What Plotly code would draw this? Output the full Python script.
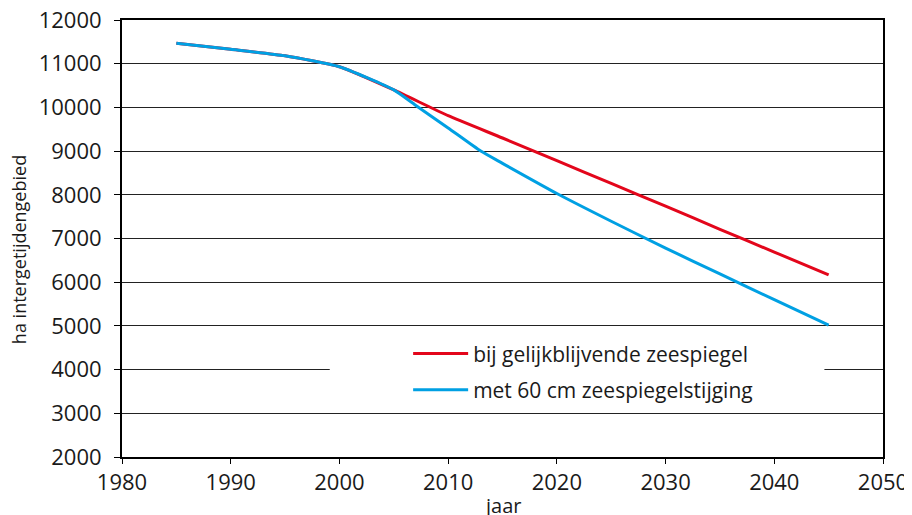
import plotly.graph_objects as go

# data
years = [1985, 1990, 1995, 2000, 2005, 2010, 2015, 2020, 2025, 2030, 2035, 2040, 2045]
gelijk = [11470, 11330, 11180, 10930, 10400, 9810, 9300, 8780, 8260, 7740, 7210, 6690, 6165]

years_stijg = [1985, 1990, 1995, 2000, 2005, 2007, 2010, 2013, 2015, 2020, 2025, 2030, 2035, 2040, 2045]
stijging = [11470, 11330, 11180, 10930, 10400, 10050, 9530, 9000, 8720, 8030, 7395, 6780, 6190, 5600, 5020]

x_ticks = [1980, 1990, 2000, 2010, 2020, 2030, 2040, 2050]
y_ticks = [2000, 3000, 4000, 5000, 6000, 7000, 8000, 9000, 10000, 11000, 12000]

RED = '#e3061b'
BLUE = '#00a0e3'
FONT = 'Open Sans'

fig = go.Figure()

fig.add_trace(go.Scatter(
    x=years, y=gelijk, mode='lines',
    name='bij gelijkblijvende zeespiegel', legendgroup='a',
    line=dict(color=RED, width=3, shape='spline', smoothing=0.5)
))
fig.add_trace(go.Scatter(
    x=years_stijg, y=stijging, mode='lines',
    name='met 60 cm zeespiegelstijging', legendgroup='b',
    line=dict(color=BLUE, width=3, shape='spline', smoothing=0.5)
))

# white panel behind the legend hides the 4000 gridline
fig.add_shape(type='rect', xref='paper', yref='paper',
              x0=0.273, x1=0.923, y0=0.115, y1=0.285,
              fillcolor='white', line=dict(width=0), layer='above')

# axis titles as annotations so they sit where the original has them
fig.add_annotation(
    text='ha intergetijdengebied', textangle=-90,
    xref='paper', yref='paper', x=-0.135, y=0.474,
    xanchor='center', yanchor='middle',
    showarrow=False, font=dict(size=18, family=FONT, color='#1a1a1a')
)
fig.add_annotation(
    text='jaar', xref='paper', yref='paper', x=0.5, y=-0.112,
    xanchor='center', yanchor='middle',
    showarrow=False, font=dict(size=20, family=FONT, color='#1a1a1a')
)

# page body adds an 8px offset, so the figure is drawn 8px smaller
fig.update_layout(
    width=904, height=507,
    margin=dict(l=114, r=29, t=12, b=58),
    paper_bgcolor='white', plot_bgcolor='white',
    font=dict(family=FONT, color='#1a1a1a', size=22),
    showlegend=True,
    legend=dict(x=0.376, y=0.283, xanchor='left', yanchor='top',
                bgcolor='rgba(0,0,0,0)', font=dict(size=21, family=FONT),
                itemwidth=55, tracegroupgap=6),
    xaxis=dict(
        range=[1980, 2050], tickvals=x_ticks, showgrid=False,
        showline=True, linecolor='black', linewidth=2, mirror=True,
        ticks='outside', ticklen=5, tickcolor='black',
        tickfont=dict(size=22), ticklabeloverflow='allow',
        zeroline=False, automargin=False
    ),
    yaxis=dict(
        range=[2000, 12000], tickvals=y_ticks, tickformat='d',
        showgrid=True, gridcolor='#222222', gridwidth=1,
        showline=True, linecolor='black', linewidth=2, mirror=True,
        ticks='outside', ticklen=6, tickcolor='black',
        tickfont=dict(size=22), ticklabelstandoff=8,
        ticklabeloverflow='allow',
        zeroline=False, automargin=False
    ),
)

fig.write_html("out.html")
